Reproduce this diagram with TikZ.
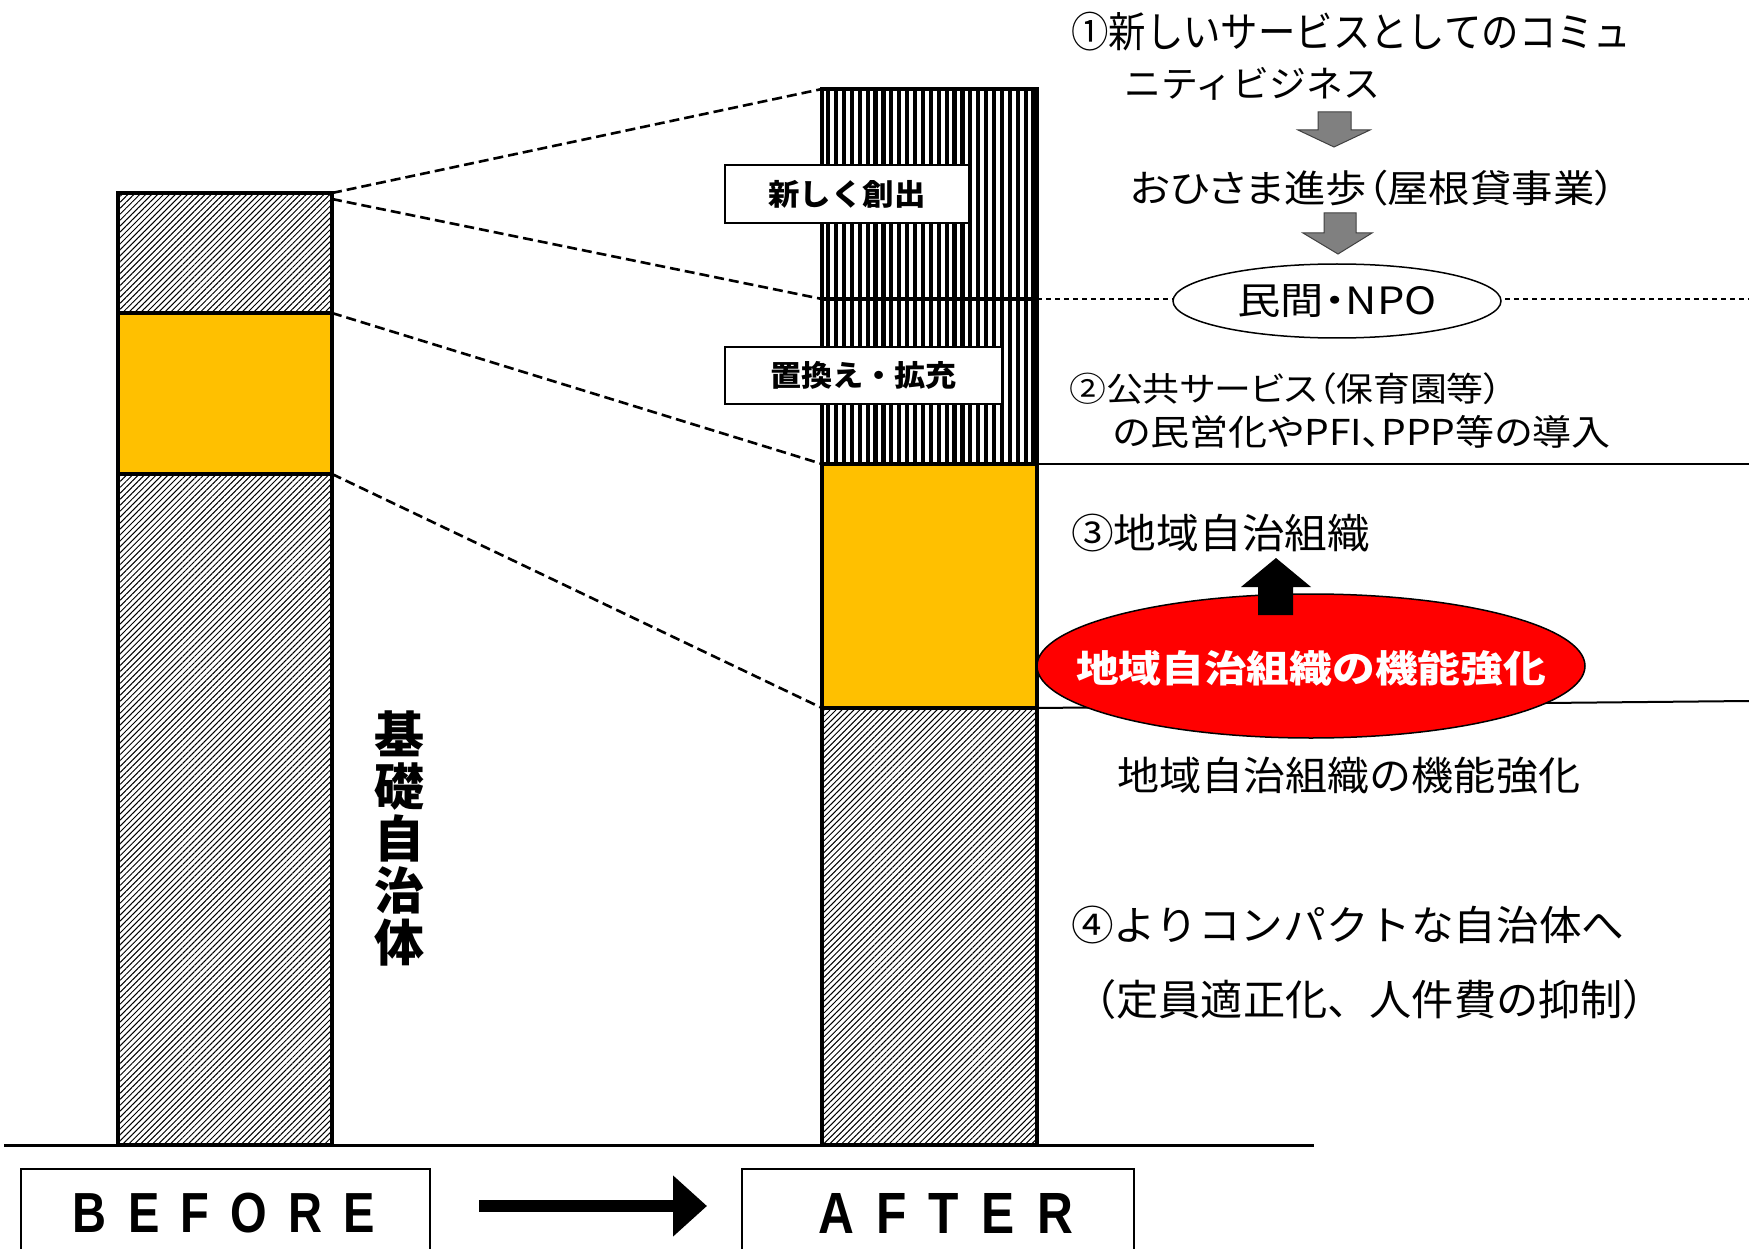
\documentclass[tikz,border=0pt]{standalone}
\usepackage{fontspec}
\usepackage{graphicx}
\usetikzlibrary{patterns.meta,arrows.meta,shapes.geometric}
\newfontfamily\jp[RawFeature=+palt]{Noto Sans CJK JP}
\newfontfamily\jpn{Noto Sans CJK JP}
\newfontfamily\lat{Liberation Sans}
\definecolor{gold}{HTML}{FFC000}
\definecolor{arrowgray}{HTML}{808080}
\newcommand\fitbox[3]{\resizebox*{#1}{#2}{#3}}
\begin{document}
\begin{tikzpicture}[x=1pt,y=-1pt,
  colborder/.style={line width=4pt},
  hatch/.style={pattern={Lines[angle=45,distance=4.2pt,line width=1.0pt]}},
  connector/.style={line width=2.6pt, dash pattern=on 10pt off 5pt},
  guide/.style={line width=2pt},
  fineguide/.style={line width=2pt, dash pattern=on 5pt off 4pt},
  labelbox/.style={draw, line width=1.5pt, fill=white, inner sep=0pt},
  txt/.style={anchor=west, inner sep=0pt},
  graybk/.style={fill=arrowgray, draw=black!75, line width=1pt},
  bottombox/.style={draw, line width=2pt, anchor=north west, inner sep=0pt, minimum height=130pt}]
\useasboundingbox (0,0) rectangle (1749,1249);
\fill[white] (0,0) rectangle (1749,1249);

% ---------- BEFORE column ----------
\fill[white] (118,193) rectangle (332,1145);
\fill[hatch] (118,193) rectangle (332,313);
\fill[gold] (118,313) rectangle (332,474);
\fill[hatch] (118,474) rectangle (332,1145);
\draw[colborder] (118,193) rectangle (332,1145);
\draw[colborder] (118,313) -- (332,313);
\draw[colborder] (118,474) -- (332,474);
\coordinate (bA) at (332,193);
\coordinate (bB) at (332,199);
\coordinate (bC) at (332,313);
\coordinate (bD) at (332,474);

% ---------- AFTER column ----------
\fill[white] (822,89) rectangle (1037,1145);
\begin{scope}
  \clip (822,89) rectangle (1037,464);
  \foreach \i in {0,...,26} \fill (826+\i*7.9,89) rectangle ++(4.2,375);
\end{scope}
\fill[gold] (822,464) rectangle (1037,708);
\fill[hatch] (822,708) rectangle (1037,1145);
\draw[colborder] (822,89) rectangle (1037,1145);
\draw[colborder] (822,299) -- (1037,299);
\draw[colborder] (822,464) -- (1037,464);
\draw[colborder] (822,708) -- (1037,708);
\coordinate (aA) at (822,89);
\coordinate (aB) at (822,299);
\coordinate (aC) at (822,464);
\coordinate (aD) at (822,708);
\coordinate (rB) at (1037,299);
\coordinate (rC) at (1037,464);
\coordinate (rD) at (1037,708);
\coordinate (eB) at (1749,299);
\coordinate (eC) at (1749,464);
\coordinate (eD) at (1749,701);

% ---------- dashed connectors ----------
\draw[connector] (bA) -- (aA);
\draw[connector] (bB) -- (aB);
\draw[connector] (bC) -- (aC);
\draw[connector] (bD) -- (aD);

% ---------- right guide lines ----------
\draw[fineguide] (rB) -- (eB);
\draw[guide] (rC) -- (eC);
\draw[guide] (rD) -- (eD);

% ground line
\coordinate (g1) at (4,1145);
\coordinate (g2) at (1314,1145);
\draw[line width=3pt] (g1) -- (g2);

% ---------- labels on AFTER column ----------
\node[labelbox, minimum width=244pt, minimum height=58pt] (newbox) at (847,194)
  {\fitbox{157pt}{28pt}{\jpn\bfseries 新しく創出}};
\node[labelbox, minimum width=277pt, minimum height=57pt] (replbox) at (863.5,375.5)
  {\fitbox{187pt}{28pt}{\jpn\bfseries 置換え・拡充}};

% vertical label
\node[align=center, inner sep=0pt, font=\jpn\bfseries\fontsize{50}{52}\selectfont] (kiso) at (399,838)
  {基\\礎\\自\\治\\体};

% ---------- right-hand texts ----------
\node[txt] (t1) at (1071,32) {\fitbox{560pt}{39pt}{\jpn ①新しいサービスとしてのコミュ}};
\node[txt] (t2) at (1124,84) {\fitbox{256pt}{33pt}{\jpn ニティビジネス}};
\filldraw[graybk] (1318,112) -- (1351,112) -- (1351,130) -- (1370,130) -- (1334,147) -- (1298,130) -- (1318,130) -- cycle;
\node[txt] (t3) at (1130,188) {\fitbox{485pt}{36pt}{\jp おひさま進歩（屋根貸事業）}};
\filldraw[graybk] (1324,213) -- (1356,213) -- (1356,233) -- (1372,233) -- (1338,254) -- (1303,233) -- (1324,233) -- cycle;
\node[ellipse, draw, line width=1.5pt, fill=white, minimum width=328pt, minimum height=74pt, inner sep=0pt] (npo) at (1337,301)
  {\fitbox{199pt}{33pt}{\jp 民間・NPO}};
\node[txt] (t4) at (1069,389) {\fitbox{433pt}{32pt}{\jp ②公共サービス（保育園等）}};
\node[txt] (t5) at (1113,432) {\fitbox{497pt}{33pt}{\jp の民営化やPFI、PPP等の導入}};
\node[txt] (t6) at (1071,533) {\fitbox{299pt}{38pt}{\jpn ③地域自治組織}};

\filldraw[fill=red, draw=black, line width=1.5pt] (1311,666) ellipse [x radius=274, y radius=72];
\node[inner sep=0pt] (redtxt) at (1311,668)
  {\fitbox{470pt}{36pt}{\color{white}\jpn\bfseries 地域自治組織の機能強化}};
\fill (1258,615) -- (1293,615) -- (1293,587) -- (1311,587) -- (1276,558) -- (1241,587) -- (1258,587) -- cycle;

\node[txt] (t7) at (1117,776) {\fitbox{463pt}{37pt}{\jpn 地域自治組織の機能強化}};
\node[txt] (t8) at (1071,925) {\fitbox{553pt}{38pt}{\jpn ④よりコンパクトな自治体へ}};
\node[txt] (t9) at (1074,1000) {\fitbox{591pt}{40pt}{\jpn （定員適正化、人件費の抑制）}};

% ---------- BEFORE / AFTER ----------
\node[bottombox, minimum width=409pt] (beforebox) at (20,1168) {};
\node[bottombox, minimum width=392pt] (afterbox) at (741,1168) {};
\node[inner sep=0pt] (beforetxt) at (224,1213)
  {\fitbox{302pt}{40pt}{\lat\bfseries B\kern.45em E\kern.45em F\kern.45em O\kern.45em R\kern.45em E}};
\node[inner sep=0pt] (aftertxt) at (945.5,1213)
  {\fitbox{255pt}{40pt}{\lat\bfseries A\kern.45em F\kern.45em T\kern.45em E\kern.45em R}};
\coordinate (arS) at (479,1206);
\coordinate (arE) at (707,1206);
\draw[line width=12pt, -{Triangle[length=34pt,width=59pt]}] (arS) -- (arE);
\end{tikzpicture}
\end{document}
